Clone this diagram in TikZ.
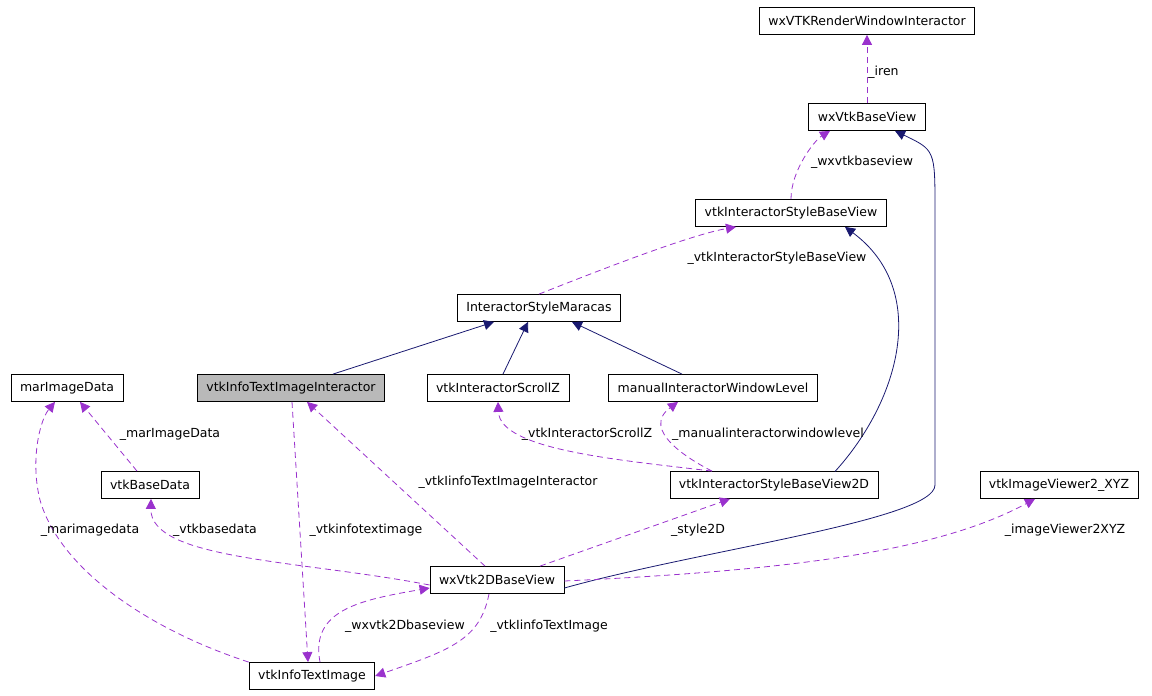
\documentclass[tikz,border=0pt]{standalone}
\usepackage{fontspec}
\setmainfont{DejaVu Sans}
\usepackage{tikz}
\usetikzlibrary{arrows.meta,positioning}
\definecolor{inh}{HTML}{191970}
\definecolor{use}{HTML}{9A32CD}
\tikzset{
  cls/.style={draw, thick, fill=white, minimum height=27pt, inner xsep=9pt, font=\fontsize{12.5}{14}\selectfont},
  inherit/.style={draw=inh, thick, {Triangle[length=10pt,width=10pt]}-},
  uses/.style={draw=use, thick, dash pattern=on 6pt off 4pt, -{Triangle[length=10pt,width=10pt]}},
  lbl/.style={font=\fontsize{12.5}{14}\selectfont, inner sep=1pt}
}
\begin{document}
\begin{tikzpicture}[x=1pt,y=-1pt]
    \useasboundingbox (0,0) rectangle (1152,696);
    % classes
    \node[cls] (rwi) at (867,21) {wxVTKRenderWindowInteractor};
    \node[cls] (bv) at (867,117) {wxVtkBaseView};
    \node[cls] (isbv) at (791,213) {vtkInteractorStyleBaseView};
    \node[cls] (ism) at (539,308) {InteractorStyleMaracas};
    \node[cls] (mid) at (67,388) {marImageData};
    \node[cls, fill=gray!55] (itii) at (291,388) {vtkInfoTextImageInteractor};
    \node[cls] (isz) at (498,388) {vtkInteractorScrollZ};
    \node[cls] (miwl) at (713,388) {manualInteractorWindowLevel};
    \node[cls] (bd) at (150,485) {vtkBaseData};
    \node[cls] (isbv2) at (774,485) {vtkInteractorStyleBaseView2D};
    \node[cls] (iv) at (1059,485) {vtkImageViewer2\_XYZ};
    \node[cls] (bv2d) at (497,580) {wxVtk2DBaseView};
    \node[cls] (iti) at (312,676) {vtkInfoTextImage};

    % inheritance
    \draw[inherit] ([xshift=28pt]bv.south) .. controls (935,150) .. (935,210) -- (935,485) .. controls (935,520) and (700,550) .. ([yshift=-8pt]bv2d.east);
    \draw[inherit] ([xshift=54pt]isbv.south) .. controls (930,290) and (900,400) .. (835,471.5);
    \draw[inherit] ([xshift=-45pt]ism.south) -- ([xshift=42pt]itii.north);
    \draw[inherit] ([xshift=-11pt]ism.south) -- ([xshift=5pt]isz.north);
    \draw[inherit] ([xshift=33pt]ism.south) -- ([xshift=-31pt]miwl.north);

    % usage
    \draw[uses] (bv) -- node[lbl, right, pos=0.45] {\_iren} (rwi);
    \draw[uses] (isbv.north) .. controls (791,170) and (815,140) .. ([xshift=-37pt]bv.south) node[lbl] at (862,162) {\_wxvtkbaseview};
    \draw[uses] (ism.north) .. controls (600,270) and (690,235) .. ([xshift=-55pt]isbv.south) node[lbl] at (777,258) {\_vtkInteractorStyleBaseView};
    \draw[uses] ([xshift=-13pt]bd.north) -- ([xshift=13pt]mid.south) node[lbl] at (170,434) {\_marImageData};
    \draw[uses] ([xshift=-62pt]isbv2.north) .. controls (620,460) and (500,450) .. (isz.south) node[lbl] at (587,434) {\_vtkInteractorScrollZ};
    \draw[uses] ([xshift=-62pt]isbv2.north) .. controls (690,460) and (640,430) .. ([xshift=-35pt]miwl.south) node[lbl] at (768,434) {\_manualinteractorwindowlevel};
    \draw[uses] ([xshift=-12pt]bv2d.north) -- ([xshift=16pt]itii.south) node[lbl] at (508,482) {\_vtkIinfoTextImageInteractor};
    \draw[uses] ([xshift=43pt]bv2d.north) -- ([xshift=-44pt]isbv2.south) node[lbl] at (698,530) {\_style2D};
    \draw[uses] ([yshift=-1pt]bv2d.east) .. controls (800,570) and (940,550) .. ([xshift=-24pt]iv.south) node[lbl] at (1065,530) {\_imageViewer2XYZ};
    \draw[uses] ([yshift=-5pt]bv2d.west) .. controls (300,560) and (150,560) .. ([xshift=1pt]bd.south) node[lbl] at (215,530) {\_vtkbasedata};
    \draw[uses] ([xshift=1pt]itii.south) -- ([xshift=-4pt]iti.north) node[lbl] at (366,530) {\_vtkinfotextimage};
    \draw[uses] (iti.north west) .. controls (150,630) and (60,570) .. (40,500) .. controls (30,460) and (40,420) .. ([xshift=-12pt]mid.south) node[lbl] at (90,530) {\_marimagedata};
    \draw[uses] ([xshift=8pt]iti.north) .. controls (310,610) and (360,600) .. ([yshift=-8pt]bv2d.west) node[lbl] at (405,626) {\_wxvtk2Dbaseview};
    \draw[uses] ([xshift=-8pt]bv2d.south) .. controls (480,640) and (450,650) .. (iti.east) node[lbl] at (549,626) {\_vtkIinfoTextImage};
\end{tikzpicture}
\end{document}
